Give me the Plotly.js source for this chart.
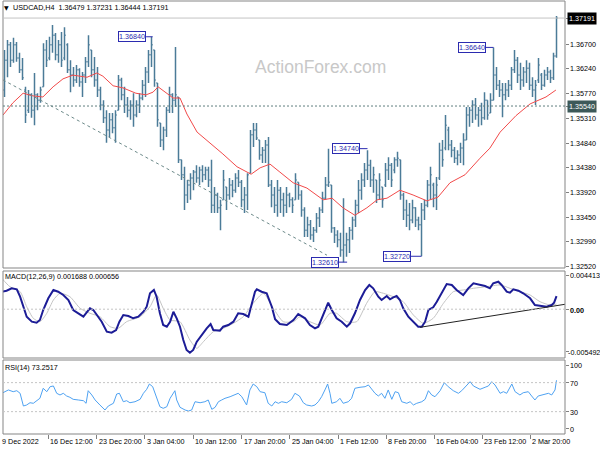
<!DOCTYPE html>
<html><head><meta charset="utf-8">
<script src="https://cdn.plot.ly/plotly-3.0.1.min.js"></script>
<style>html,body{margin:0;padding:0;background:#fff}#chart{width:600px;height:450px}</style>
</head><body><div id="chart"></div>
<script>
// ---- USDCAD H4 bars ----
const openP = [1.3584,1.3640,1.3669,1.3640,1.3669,1.3644,1.3622,1.3584,1.3546,1.3575,1.3546,1.3575,1.3565,1.3590,1.3659,1.3644,1.3669,1.3687,1.3650,1.3669,1.3644,1.3669,1.3622,1.3612,1.3603,1.3622,1.3599,1.3612,1.3637,1.3659,1.3622,1.3603,1.3584,1.3556,1.3532,1.3509,1.3528,1.3513,1.3546,1.3603,1.3575,1.3556,1.3546,1.3556,1.3537,1.3556,1.3569,1.3593,1.3618,1.3650,1.3659,1.3597,1.3522,1.3490,1.3509,1.3546,1.3575,1.3565,1.3571,1.3453,1.3425,1.3387,1.3406,1.3419,1.3430,1.3419,1.3434,1.3425,1.3434,1.3415,1.3368,1.3387,1.3363,1.3378,1.3402,1.3387,1.3406,1.3396,1.3419,1.3411,1.3378,1.3387,1.3428,1.3500,1.3509,1.3490,1.3462,1.3471,1.3481,1.3406,1.3387,1.3368,1.3396,1.3378,1.3368,1.3387,1.3378,1.3378,1.3411,1.3387,1.3359,1.3321,1.3331,1.3312,1.3321,1.3344,1.3359,1.3381,1.3406,1.3406,1.3325,1.3312,1.3303,1.3284,1.3293,1.3303,1.3321,1.3340,1.3368,1.3396,1.3415,1.3434,1.3443,1.3415,1.3415,1.3387,1.3402,1.3406,1.3434,1.3443,1.3434,1.3453,1.3453,1.3387,1.3359,1.3349,1.3340,1.3363,1.3340,1.3331,1.3359,1.3368,1.3406,1.3406,1.3387,1.3419,1.3471,1.3475,1.3509,1.3481,1.3471,1.3456,1.3462,1.3475,1.3490,1.3537,1.3546,1.3556,1.3537,1.3546,1.3532,1.3565,1.3541,1.3565,1.3612,1.3593,1.3584,1.3575,1.3584,1.3593,1.3622,1.3640,1.3612,1.3603,1.3618,1.3625,1.3593,1.3584,1.3603,1.3612,1.3593,1.3612,1.3618,1.3607,1.36479];
const highP = [1.3659,1.3678,1.3674,1.3682,1.3674,1.3654,1.3644,1.3590,1.3584,1.3578,1.3616,1.3578,1.3590,1.3672,1.3678,1.3684,1.3706,1.3691,1.3678,1.3693,1.3702,1.3672,1.3640,1.3627,1.3631,1.3625,1.3618,1.3646,1.3687,1.3659,1.3646,1.3627,1.3590,1.3565,1.3546,1.3541,1.3541,1.3546,1.3612,1.3607,1.3590,1.3571,1.3565,1.3578,1.3565,1.3578,1.3603,1.3627,1.3659,1.3684,1.3659,1.3597,1.3522,1.3515,1.3552,1.3590,1.3578,1.3665,1.3571,1.3453,1.3440,1.3415,1.3428,1.3434,1.3443,1.3440,1.3443,1.3440,1.3440,1.3453,1.3402,1.3391,1.3378,1.3434,1.3402,1.3419,1.3415,1.3428,1.3434,1.3415,1.3402,1.3428,1.3509,1.3522,1.3522,1.3490,1.3477,1.3490,1.3496,1.3415,1.3402,1.3415,1.3402,1.3391,1.3402,1.3391,1.3383,1.3428,1.3411,1.3396,1.3364,1.3346,1.3340,1.3327,1.3353,1.3364,1.3393,1.3421,1.3474,1.3406,1.3327,1.3321,1.3316,1.3381,1.3316,1.3327,1.3346,1.3378,1.3415,1.3428,1.3447,1.3471,1.3453,1.3440,1.3415,1.3428,1.3402,1.3447,1.3458,1.3447,1.3458,1.3468,1.3453,1.3391,1.3378,1.3372,1.3378,1.3364,1.3346,1.3372,1.3378,1.3415,1.3440,1.3410,1.3421,1.3485,1.3490,1.3537,1.3515,1.3490,1.3477,1.3471,1.3485,1.3503,1.3552,1.3552,1.3565,1.3569,1.3552,1.3560,1.3580,1.3565,1.3578,1.3664,1.3627,1.3603,1.3597,1.3597,1.3603,1.3627,1.3659,1.3646,1.3635,1.3627,1.3640,1.3635,1.3608,1.3603,1.3644,1.3616,1.3622,1.3627,1.3622,1.3654,1.37231];
const lowP = [1.3571,1.3608,1.3627,1.3635,1.3637,1.3616,1.3603,1.3522,1.3541,1.3532,1.3518,1.3546,1.3560,1.3590,1.3627,1.3640,1.3654,1.3640,1.3635,1.3627,1.3640,1.3616,1.3580,1.3590,1.3597,1.3590,1.3571,1.3597,1.3627,1.3608,1.3590,1.3571,1.3546,1.3522,1.3485,1.3496,1.3503,1.3485,1.3546,1.3565,1.3541,1.3533,1.3528,1.3515,1.3533,1.3541,1.3565,1.3571,1.3597,1.3627,1.3590,1.3515,1.3477,1.3471,1.3496,1.3541,1.3541,1.3552,1.3447,1.3415,1.3359,1.3372,1.3378,1.3396,1.3410,1.3406,1.3411,1.3415,1.3402,1.3353,1.3353,1.3353,1.3321,1.3378,1.3359,1.3378,1.3383,1.3391,1.3402,1.3364,1.3353,1.3359,1.3428,1.3477,1.3490,1.3453,1.3447,1.3447,1.3402,1.3364,1.3353,1.3346,1.3353,1.3346,1.3353,1.3364,1.3353,1.3378,1.3378,1.3346,1.3308,1.3308,1.3303,1.3299,1.3316,1.3327,1.3353,1.3378,1.3402,1.3316,1.3297,1.3289,1.3271,1.3261,1.3271,1.3278,1.3303,1.3327,1.3353,1.3378,1.3402,1.3415,1.3402,1.3391,1.3372,1.3378,1.3363,1.3402,1.3415,1.3402,1.3428,1.3440,1.3378,1.3340,1.3327,1.3321,1.3334,1.3327,1.3321,1.3272,1.3340,1.3364,1.3378,1.3364,1.3359,1.3415,1.3440,1.3471,1.3471,1.3458,1.3447,1.3443,1.3447,1.3443,1.3490,1.3515,1.3522,1.3528,1.3515,1.3518,1.3528,1.3528,1.3541,1.3565,1.3584,1.3571,1.3533,1.3565,1.3571,1.3584,1.3616,1.3597,1.3584,1.3590,1.3597,1.3584,1.3571,1.3556,1.3597,1.3584,1.3590,1.3603,1.3597,1.3603,1.36444];
const closeP = [1.3640,1.3669,1.3640,1.3669,1.3644,1.3622,1.3607,1.3537,1.3575,1.3546,1.3575,1.3565,1.3584,1.3659,1.3640,1.3669,1.3687,1.3650,1.3669,1.3640,1.3687,1.3622,1.3612,1.3603,1.3622,1.3599,1.3612,1.3637,1.3669,1.3622,1.3603,1.3584,1.3556,1.3532,1.3509,1.3528,1.3513,1.3537,1.3603,1.3575,1.3556,1.3546,1.3556,1.3537,1.3556,1.3569,1.3593,1.3618,1.3650,1.3669,1.3603,1.3528,1.3490,1.3509,1.3546,1.3575,1.3565,1.3575,1.3453,1.3425,1.3387,1.3406,1.3419,1.3430,1.3419,1.3434,1.3425,1.3434,1.3415,1.3368,1.3387,1.3363,1.3368,1.3415,1.3387,1.3406,1.3396,1.3419,1.3411,1.3378,1.3387,1.3425,1.3500,1.3509,1.3494,1.3462,1.3471,1.3481,1.3406,1.3387,1.3368,1.3396,1.3378,1.3368,1.3387,1.3378,1.3368,1.3415,1.3387,1.3359,1.3321,1.3331,1.3312,1.3321,1.3344,1.3359,1.3381,1.3406,1.3411,1.3325,1.3312,1.3303,1.3284,1.3293,1.3303,1.3321,1.3340,1.3368,1.3396,1.3415,1.3434,1.3443,1.3415,1.3425,1.3387,1.3415,1.3378,1.3434,1.3443,1.3415,1.3453,1.3456,1.3387,1.3359,1.3349,1.3340,1.3363,1.3340,1.3331,1.3359,1.3368,1.3406,1.3425,1.3387,1.3406,1.3471,1.3453,1.3518,1.3481,1.3471,1.3456,1.3462,1.3475,1.3490,1.3537,1.3546,1.3556,1.3537,1.3546,1.3532,1.3565,1.3537,1.3565,1.3612,1.3593,1.3584,1.3575,1.3584,1.3593,1.3622,1.3640,1.3612,1.3603,1.3618,1.3625,1.3593,1.3584,1.3593,1.3631,1.3593,1.3612,1.3618,1.3607,1.3648,1.37191];
const barIndex = openP.map((_, i) => i);

// ---- moving average (red) ----
const maIdx = [-0.5,2.8,6.2,9.5,12.8,16.2,19.5,22.8,27.5,30.8,32.8,36.2,39.5,43.8,47.2,49.5,51.2,54.2,56.2,58.5,60.8,64.2,68.5,72.8,77.5,82.2,85.2,88.5,91.8,96.2,100.8,106.2,109.2,112.8,116.8,120.8,124.2,127.5,131.8,136.2,140.8,144.5,148.5,153.5,158.5,161.8,165.2,170.5,175.2,180.5,183.8];
const maVal = [1.3537,1.3560,1.3578,1.3573,1.3571,1.3590,1.3605,1.3612,1.3608,1.3616,1.3610,1.3592,1.3588,1.3578,1.3575,1.3580,1.3590,1.3577,1.3569,1.3569,1.3539,1.3505,1.3485,1.3464,1.3440,1.3426,1.3438,1.3445,1.3430,1.3410,1.3400,1.3378,1.3381,1.3363,1.3349,1.3363,1.3378,1.3381,1.3396,1.3387,1.3376,1.3383,1.3410,1.3425,1.3456,1.3475,1.3505,1.3536,1.3558,1.3571,1.3584];

// ---- drawn levels ----
const trendIdx = [-0.5, 107.5];
const trendVal = [1.3603, 1.3274];
const supportLevel = 1.3554;
const bidLevel = 1.37191;
const markTexts = ['1.36840','1.36640','1.34740','1.32610','1.32720'];
const markVals = [1.3684, 1.3664, 1.3474, 1.3261, 1.3272];
const markBoxEnd = [47.2, 160.5, 118.5, 111.5, 135.5];
const markBarIdx = [49.4, 163, 121, 114.2, 139];

// ---- MACD(12,26,9) ----
const macdIdx = [-0.9,0.7,2.4,4.1,5.2,6.3,7.4,9.1,10.7,11.8,12.9,14.6,16.3,17.9,19.6,21.3,22.9,24.6,26.3,27.6,28.5,29.6,30.7,32.4,34.1,35.7,37.2,38.3,39.6,41.3,42.9,44.6,46.3,47.4,48.5,49.8,50.7,51.8,52.9,54.1,55.2,56.3,57.4,58.5,59.6,60.7,61.8,62.9,64.1,65.7,67.4,68.7,69.6,71.8,72.9,74.6,76.3,77.9,79.6,81.3,82.4,83.5,84.1,85.7,87.4,89.1,90.2,91.8,94.1,96.3,97.9,100.2,101.8,103.5,104.6,106.3,107.9,109.1,110.7,112.4,114.1,115.2,116.8,118.5,120.2,121.6,122.9,124.6,125.7,127.4,128.5,129.6,130.7,131.8,132.9,134.6,136.3,137.9,139.1,140.2,141.3,142.9,144.1,145.7,147.4,149.1,150.7,152.9,154.6,156.3,158.5,160.2,161.8,162.9,164.6,165.7,167.4,168.5,169.6,171.3,172.9,175.2,176.8,178.5,180.7,182.4,183.2,184];
const macdVal = [0.002259,0.002388,0.002698,0.002569,0.001614,0.000323,-0.000968,-0.001614,-0.001743,-0.001394,-0.000103,0.001407,0.002479,0.002259,0.001833,0.001188,-0.000103,-0.000529,-0.000968,-0.000323,0.000116,-0.000103,-0.000749,-0.001614,-0.002905,-0.003034,-0.002685,-0.001614,-0.000749,-0.000878,-0.001175,-0.000968,-0.000323,0.000323,0.002053,0.002479,0.001614,-0.000529,-0.002040,-0.002259,-0.001614,-0.000323,-0.001175,-0.002259,-0.003976,-0.005267,-0.005616,-0.005267,-0.004196,-0.003331,-0.002466,-0.001911,-0.002685,-0.002776,-0.002259,-0.002040,-0.001614,-0.000529,-0.000620,-0.000968,0.000762,0.002259,0.002569,0.002259,0.002053,0.000323,-0.001304,-0.001911,-0.002040,-0.001394,-0.000620,-0.001175,-0.002040,-0.002466,-0.002259,-0.000749,0.000839,-0.000103,-0.001175,-0.001614,-0.002259,-0.001820,-0.000529,0.001188,0.002479,0.003124,0.002698,0.001614,0.001188,0.001704,0.001278,0.001536,0.001704,0.001188,0.000116,-0.000968,-0.001614,-0.002259,-0.002259,-0.001614,-0.000103,0.000245,0.000968,0.002053,0.003253,0.003124,0.002479,0.001833,0.002698,0.003344,0.003124,0.002995,0.002698,0.003344,0.003550,0.003124,0.002259,0.002130,0.002569,0.002388,0.002053,0.001407,0.000542,0.000413,0.000323,0.000542,0.000839,0.001688];
const signalIdx = [-0.9,1.8,5.2,7.4,9.6,11.8,14.1,16.3,18.5,21.8,25.2,28.5,31.8,35.2,37.9,40.7,45.2,48.5,50.7,52.9,55.2,58.5,61.8,64.1,66.3,69.6,72.9,76.3,79.6,82.9,86.3,89.6,92.9,96.3,98.5,101.8,105.2,108.5,110.7,114.1,117.4,120.7,123.5,126.3,129.6,132.9,136.3,139.6,142.9,146.3,149.6,152.9,156.3,160.7,165.2,168.5,171.8,175.2,178.5,181.8,184];
const signalVal = [0.003989,0.002905,0.002259,0.000323,-0.001175,-0.001614,-0.000529,0.001188,0.002053,0.001614,0.000116,-0.000529,-0.000968,-0.002259,-0.002466,-0.001614,-0.000968,0.000323,0.001833,0.000116,-0.001394,-0.001614,-0.003976,-0.005048,-0.004196,-0.002905,-0.002466,-0.001820,-0.000968,0.000762,0.002053,0.000116,-0.001614,-0.001614,-0.000968,-0.001614,-0.002040,-0.000529,-0.000529,-0.001614,-0.001614,0.000762,0.002259,0.002053,0.001614,0.000968,-0.000749,-0.001820,-0.001175,0.000762,0.002259,0.002479,0.002698,0.002905,0.003124,0.002698,0.002259,0.001833,0.000968,0.000542,0.000656];
const macdTrendIdx = [138.5, 186.8];
const macdTrendVal = [-0.002337, 0.000633];

// ---- RSI(14) ----
const rsiIdx = [-0.9,0.2,1.3,2.9,4.1,5.2,6.3,7.4,8.5,9.6,10.7,11.8,12.9,14.1,15.2,16.3,17.4,18.5,19.6,20.7,21.8,22.9,24.6,26.3,27.2,27.9,29.1,30.2,31.8,33.5,34.6,36.3,37.4,38.3,39.6,40.7,41.8,43.5,45.2,46.3,47.4,48.3,49.4,50.7,51.8,52.9,54.1,55.2,56.3,56.8,57.4,58.5,60.2,61.3,62.4,63.5,65.2,66.8,67.9,69.1,70.2,71.3,72.4,73.5,75.2,76.8,77.9,79.1,80.7,81.8,82.9,84.1,85.2,86.8,87.9,89.1,90.2,91.3,92.4,94.1,95.7,96.8,98.3,99.6,100.7,102.4,103.5,104.6,105.7,106.8,107.7,108.5,109.1,110.7,111.8,112.9,114.6,115.7,116.8,118.5,120.2,121.3,122.4,123.5,124.6,125.7,126.8,127.9,129.1,130.2,131.3,132.4,134.1,135.2,136.3,137.4,139.1,140.2,141.3,142.4,143.5,145.2,146.6,147.9,149.6,151.3,152.4,153.5,155.2,156.3,157.4,158.5,160.2,161.3,162.4,163.5,165.2,166.3,167.4,169.1,170.2,171.8,172.9,174.6,175.7,176.8,177.9,179.6,181.3,182.4,183.5,184];
const rsiVal = [55.3,57.5,59.9,57.5,58.9,55.3,37.8,39.2,42.3,41.5,45.1,48.4,62.2,57.5,64.4,65.4,55.3,53.0,55.3,51.6,49.8,47.0,46.1,45.1,41.5,58.9,53.0,46.1,39.2,32.3,37.8,41.5,54.3,55.3,43.7,45.1,42.3,43.7,47.0,55.3,60.8,68.1,64.4,48.4,36.8,34.6,36.8,48.4,56.1,58.9,46.1,36.0,32.3,30.9,32.3,43.7,42.3,43.7,46.1,33.2,36.0,43.7,46.1,48.4,50.6,53.0,55.3,50.6,39.2,59.9,68.1,64.4,57.5,56.1,41.5,37.8,43.7,41.5,43.7,42.3,47.0,55.3,51.6,42.3,39.2,37.8,39.2,43.7,50.6,59.9,68.1,55.3,41.5,43.7,48.4,41.5,43.7,48.4,62.2,63.6,64.4,66.8,60.8,55.3,51.6,55.3,48.4,59.9,47.0,57.5,56.1,43.7,41.5,43.7,39.2,41.5,43.7,47.0,58.9,53.0,50.6,58.9,69.9,64.4,58.9,55.3,58.9,64.4,71.3,65.4,63.6,60.8,63.6,65.4,71.3,66.8,55.3,57.5,55.3,68.1,57.5,53.0,56.1,57.5,51.6,46.1,51.6,53.0,55.3,53.0,59.9,73.25];

// ---- axis labels ----
const priceTickVals = [1.367,1.3624,1.3577,1.3531,1.3484,1.3438,1.3392,1.3345,1.3299,1.3252];
const priceTickText = ['1.36700','1.36240','1.35770','1.35310','1.34840','1.34380','1.33920','1.33450','1.32990','1.32520'];
const timeTickIdx = [-0.5,14.6,30.7,46.8,62.9,79.0,95.1,111.3,127.2,143.3,159.3,175.2];
const timeTickText = ['9 Dec 2022','16 Dec 12:00','23 Dec 20:00','3 Jan 04:00','10 Jan 12:00','17 Jan 20:00','25 Jan 04:00','1 Feb 12:00','8 Feb 20:00','16 Feb 04:00','23 Feb 12:00','2 Mar 20:00'];

// ---- layout helpers (pixel -> paper) ----
const L = 3, R = 565, T = 1, B = 434;
const px = p => (p - L) / (R - L);
const py = p => (B - p) / (B - T);
const FONT = 'Liberation Sans, Arial, sans-serif';
const fs = 7.2;
const BAR = '#4b7b98';

const traces = [
  {type:'ohlc', x:barIndex, open:openP, high:highP, low:lowP, close:closeP, xaxis:'x', yaxis:'y',
   increasing:{line:{color:BAR, width:1.5}}, decreasing:{line:{color:BAR, width:1.5}}, tickwidth:0.4, hoverinfo:'skip'},
  {type:'scatter', mode:'lines', x:maIdx, y:maVal, xaxis:'x', yaxis:'y', line:{color:'#f24a4a', width:1}, hoverinfo:'skip'},
  {type:'scatter', mode:'lines', x:trendIdx, y:trendVal, xaxis:'x', yaxis:'y', line:{color:'#6d8a8a', width:1, dash:'3px,3px'}, hoverinfo:'skip'},
  {type:'scatter', mode:'lines', x:signalIdx, y:signalVal, xaxis:'x2', yaxis:'y2', line:{color:'#c4c4c4', width:1, shape:'spline', smoothing:0.6}, hoverinfo:'skip'},
  {type:'scatter', mode:'lines', x:macdIdx, y:macdVal, xaxis:'x2', yaxis:'y2', line:{color:'#1c1c96', width:2}, hoverinfo:'skip'},
  {type:'scatter', mode:'lines', x:macdTrendIdx, y:macdTrendVal, xaxis:'x2', yaxis:'y2', line:{color:'#222', width:1}, hoverinfo:'skip'},
  {type:'scatter', mode:'lines', x:rsiIdx, y:rsiVal, xaxis:'x3', yaxis:'y3', line:{color:'#4ea2f2', width:1}, hoverinfo:'skip'}
];

const xBase = {range:[-0.5, 186.83], showgrid:false, zeroline:false, showline:false, showticklabels:false, ticks:'', fixedrange:true};
const yBase = {side:'right', showgrid:false, zeroline:false, showline:false, showticklabels:false, ticks:'outside', ticklen:3, tickcolor:'#808080', fixedrange:true};

const shapes = [];
const frame = (y0, y1) => shapes.push({type:'rect', xref:'paper', yref:'paper', x0:0, x1:1, y0:y0, y1:y1, line:{color:'#858585', width:1}});
frame(py(268), 1);
frame(py(358), py(271));
frame(0, py(360));
shapes.push({type:'line', xref:'paper', yref:'y', x0:0, x1:1, y0:bidLevel, y1:bidLevel, line:{color:'#c4c4c4', width:1}});
shapes.push({type:'line', xref:'paper', yref:'y', x0:0, x1:1, y0:supportLevel, y1:supportLevel, line:{color:'#5f7f7f', width:1, dash:'2px,2px'}});
shapes.push({type:'line', xref:'paper', yref:'y2', x0:0, x1:1, y0:0, y1:0, line:{color:'#c4c4c4', width:1, dash:'2px,2px'}});
shapes.push({type:'line', xref:'paper', yref:'y3', x0:0, x1:1, y0:70, y1:70, line:{color:'#c4c4c4', width:1, dash:'2px,2px'}});
shapes.push({type:'line', xref:'paper', yref:'y3', x0:0, x1:1, y0:30, y1:30, line:{color:'#c4c4c4', width:1, dash:'2px,2px'}});
markVals.forEach((v, i) => shapes.push({type:'line', xref:'x', yref:'y', x0:markBoxEnd[i], x1:markBarIdx[i], y0:v, y1:v, line:{color:'#2b2bb0', width:1}}));

const ann = [];
const txt = (text, x, y, o) => ann.push(Object.assign({text, xref:'paper', yref:'paper', x:px(x), y:py(y), xanchor:'left', yanchor:'middle', showarrow:false, font:{family:FONT, size:fs, color:'#000'}, borderpad:0}, o || {}));
txt('▼', 3, 7, {font:{family:'DejaVu Sans', size:6, color:'#000'}});
txt('USDCAD,H4  1.36479 1.37231 1.36444 1.37191', 12, 7);
txt('ActionForex.com', 320, 67, {xanchor:'center', font:{family:FONT, size:17.5, color:'#c8c8c8'}});
txt('MACD(12,26,9) 0.001688 0.000656', 4, 276);
txt('RSI(14) 73.2517', 4, 367);
priceTickVals.forEach((v, i) => ann.push({text:priceTickText[i], xref:'paper', yref:'y', x:px(569), y:v, xanchor:'left', yanchor:'middle', showarrow:false, font:{family:FONT, size:fs, color:'#000'}, borderpad:0}));
ann.push({text:'1.37191', xref:'paper', yref:'y', x:px(567), y:bidLevel, xanchor:'left', yanchor:'middle', showarrow:false, font:{family:FONT, size:fs, color:'#fff'}, bgcolor:'#000', borderpad:1});
ann.push({text:'1.35540', xref:'paper', yref:'y', x:px(567), y:supportLevel, xanchor:'left', yanchor:'middle', showarrow:false, font:{family:FONT, size:fs, color:'#fff'}, bgcolor:'#3d5959', borderpad:1});
txt('0.004413', 569, 275);
txt('<b>0.00</b>', 569, 310);
txt('-0.005492', 567, 352);
txt('100', 569, 365);
txt('70', 569, 383);
txt('30', 569, 412);
txt('0', 569, 429);
timeTickIdx.forEach((t, i) => ann.push({text:timeTickText[i], xref:'x3', yref:'paper', x:t, y:py(441), xanchor:'left', yanchor:'middle', xshift:(i === 0 ? -2 : 1), showarrow:false, font:{family:FONT, size:fs, color:'#000'}, borderpad:0}));
markTexts.forEach((t, i) => ann.push({text:t, xref:'x', yref:'y', x:markBoxEnd[i], y:markVals[i], xanchor:'right', yanchor:'middle', showarrow:false, font:{family:FONT, size:fs, color:'#2b2bb0'}, bgcolor:'#fff', bordercolor:'#2b2bb0', borderwidth:1, borderpad:0}));

const layout = {
  width:600, height:450, margin:{l:L, r:600-R, t:T, b:450-B},
  paper_bgcolor:'#fff', plot_bgcolor:'#fff', showlegend:false, hovermode:false, dragmode:false,
  xaxis:Object.assign({}, xBase, {anchor:'y', rangeslider:{visible:false}}),
  xaxis2:Object.assign({}, xBase, {anchor:'y2'}),
  xaxis3:Object.assign({}, xBase, {anchor:'y3', ticks:'outside', ticklen:4, tickcolor:'#808080', tickvals:timeTickIdx.slice(1)}),
  yaxis:Object.assign({}, yBase, {anchor:'x', domain:[py(268), 1], range:[1.3250, 1.37511], tickvals:priceTickVals.concat([bidLevel, supportLevel])}),
  yaxis2:Object.assign({}, yBase, {anchor:'x2', domain:[py(358), py(271)], range:[-0.0063, 0.004932], tickvals:[0.004413, 0, -0.005492]}),
  yaxis3:Object.assign({}, yBase, {anchor:'x3', domain:[0, py(360)], range:[-0.8, 101.2], tickvals:[94.3, 70, 30, 6.1]}),
  shapes, annotations:ann
};

Plotly.newPlot('chart', traces, layout, {staticPlot:true, displayModeBar:false});
</script>
</body></html>
